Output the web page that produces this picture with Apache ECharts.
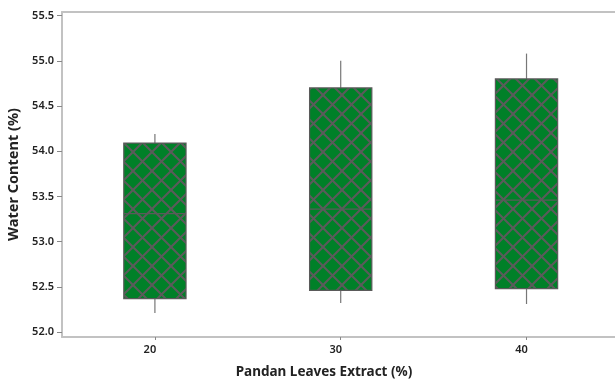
<!DOCTYPE html>
<html>
<head>
<meta charset="utf-8">
<script src="https://cdn.jsdelivr.net/npm/echarts@6/dist/echarts.min.js"></script>
<style>html,body{margin:0;padding:0;background:#fff;overflow:hidden}#c{width:615px;height:383px}</style>
</head>
<body>
<div id="c"></div>
<script>
// Data
const categories = [20, 30, 40];
const whiskerLow = [52.21, 52.32, 52.31];
const q1Values   = [52.37, 52.46, 52.48];
const medians    = [53.31, 53.36, 53.46];
const q3Values   = [54.09, 54.70, 54.80];
const whiskerHigh= [54.19, 55.00, 55.08];
const yTickValues = [52.0, 52.5, 53.0, 53.5, 54.0, 54.5, 55.0, 55.5];
const xTickValues = [20, 30, 40];

// hatch pattern
function makePattern() {
  const size = 19;
  const c = document.createElement('canvas');
  c.width = size; c.height = size;
  const g = c.getContext('2d');
  g.fillStyle = '#008028';
  g.fillRect(0, 0, size, size);
  g.strokeStyle = '#5B5B5B';
  g.lineWidth = 2;
  for (const o of [-size, 0, size]) {
    g.beginPath(); g.moveTo(o, 0); g.lineTo(o + size, size); g.stroke();
    g.beginPath(); g.moveTo(o + size, 0); g.lineTo(o, size); g.stroke();
  }
  return c;
}
const pattern = makePattern();

const boxData = categories.map((c, i) => [c, whiskerLow[i], q1Values[i], medians[i], q3Values[i], whiskerHigh[i]]);

const chart = echarts.init(document.getElementById('c'), null, {renderer: 'canvas'});
const labelStyle = {fontFamily: 'Noto Sans', fontSize: 11, fontWeight: 600, color: '#222'};
const frameLine = {show: true, lineStyle: {color: '#c2c2c2', width: 2}};
chart.setOption({
  animation: false,
  grid: {left: 62, top: 12, width: 576, height: 325, outerBoundsMode: 'none', containLabel: false},
  xAxis: [{
    type: 'value', min: 15, max: 46, position: 'bottom',
    axisLine: frameLine,
    axisTick: {show: true, length: 3, lineStyle: {color: '#888'}, customValues: xTickValues},
    axisLabel: Object.assign({margin: 7, customValues: xTickValues, padding: [0, 10, 0, 0]}, labelStyle),
    splitLine: {show: false}
  }, {
    type: 'value', min: 15, max: 46, position: 'top',
    axisLine: frameLine, axisTick: {show: false}, axisLabel: {show: false}, splitLine: {show: false}
  }],
  yAxis: {
    type: 'value', min: 51.945, max: 55.54,
    name: 'Water Content (%)', nameLocation: 'middle', nameGap: 39,
    nameTextStyle: {fontFamily: 'Noto Sans', fontSize: 14.5, fontWeight: 'bold', color: '#222'},
    axisLine: frameLine,
    axisTick: {show: true, length: 5, lineStyle: {color: '#888'}, customValues: yTickValues},
    axisLabel: Object.assign({margin: 8, customValues: yTickValues, formatter: v => v.toFixed(1)}, labelStyle),
    splitLine: {show: false}
  },
  graphic: [{
    type: 'text', x: 324, y: 372,
    style: {text: 'Pandan Leaves Extract (%)', fontFamily: 'Noto Sans', fontSize: 13.5, fontWeight: 'bold',
      fill: '#222', align: 'center', verticalAlign: 'middle'}
  }],
  series: [{
    type: 'custom',
    data: boxData,
    clip: false,
    renderItem: function (params, api) {
      const x = api.value(0);
      const lo = api.coord([x, api.value(1)]);
      const q1 = api.coord([x, api.value(2)]);
      const md = api.coord([x, api.value(3)]);
      const q3 = api.coord([x, api.value(4)]);
      const hi = api.coord([x, api.value(5)]);
      const w = api.size([3.35, 0])[0];
      const lineStyle = {stroke: '#5a5a5a', lineWidth: 1.2};
      return {
        type: 'group',
        children: [
          {type: 'line', shape: {x1: hi[0], y1: hi[1], x2: q3[0], y2: q3[1]}, style: {stroke: '#777', lineWidth: 1.2}},
          {type: 'line', shape: {x1: q1[0], y1: q1[1], x2: lo[0], y2: lo[1]}, style: {stroke: '#777', lineWidth: 1.2}},
          {type: 'rect', shape: {x: q3[0] - w / 2, y: q3[1], width: w, height: q1[1] - q3[1]},
            style: {fill: {image: pattern, repeat: 'repeat'}, stroke: '#5a5a5a', lineWidth: 1.2}},
          {type: 'line', shape: {x1: md[0] - w / 2, y1: md[1], x2: md[0] + w / 2, y2: md[1]}, style: lineStyle}
        ]
      };
    }
  }]
});
</script>
</body>
</html>
